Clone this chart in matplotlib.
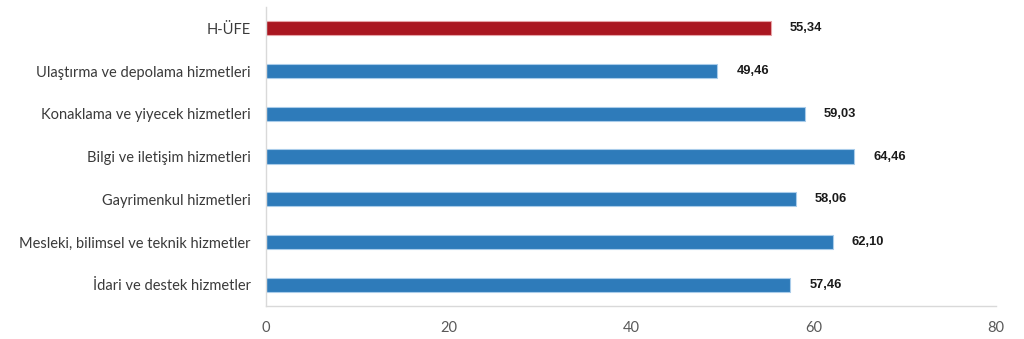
import matplotlib
matplotlib.use("Agg")
import matplotlib.pyplot as plt

categories = ["H-ÜFE", "Ulaştırma ve depolama hizmetleri", "Konaklama ve yiyecek hizmetleri",
              "Bilgi ve iletişim hizmetleri", "Gayrimenkul hizmetleri",
              "Mesleki, bilimsel ve teknik hizmetler", "İdari ve destek hizmetler"]
values = [55.34, 49.46, 59.03, 64.46, 58.06, 62.10, 57.46]
value_labels = ["55,34", "49,46", "59,03", "64,46", "58,06", "62,10", "57,46"]
ticks = [0, 20, 40, 60, 80]

colors = ["#AA1620"] + ["#2E7BBA"] * (len(categories) - 1)
edges = ["#E7A3A6"] + ["#A9CCEA"] * (len(categories) - 1)

fig = plt.figure(figsize=(10.24, 3.39), dpi=100)
ax = fig.add_axes([266/1024, 33/339, 730/1024, 299/339])
ypos = list(range(len(categories)))
ax.barh(ypos, values, height=0.33, color=colors, edgecolor=edges, linewidth=0.8)
ax.set_ylim(len(categories) - 0.5, -0.5)
ax.set_xlim(0, 80)
ax.set_xticks(ticks)
ax.set_xticklabels([str(t) for t in ticks], fontsize=10.5, color="#595959", family="Lato")
ax.set_yticks(ypos)
ax.set_yticklabels(categories, fontsize=10.5, color="#3a3a3a", family="Lato")
ax.tick_params(axis="both", length=0)
ax.tick_params(axis="y", pad=11)
ax.tick_params(axis="x", pad=11)
for s in ["top", "right"]:
    ax.spines[s].set_visible(False)
for s in ["left", "bottom"]:
    ax.spines[s].set_color("#D9D9D9")
    ax.spines[s].set_linewidth(1.0)
for y, v, lab in zip(ypos, values, value_labels):
    ax.text(v + 2.1, y, lab, va="center", ha="left", fontsize=9.3, fontweight="bold",
            color="#1a1a1a", family="Liberation Sans")
fig.savefig("out.png", dpi=100)
